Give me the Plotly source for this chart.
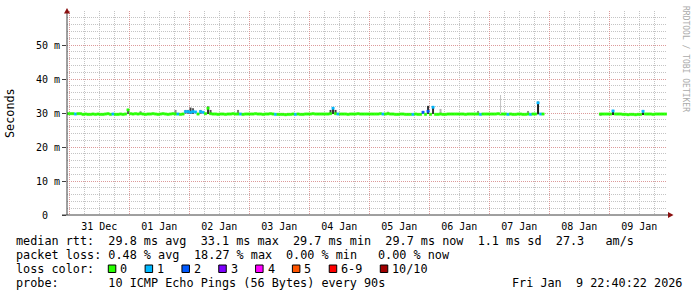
import pandas as pd
import plotly.graph_objects as go

# ---------------- data ----------------
sample_start = "2025-12-30 23:00"      # first hourly sample
view_start = "2025-12-30 23:05"
view_end = "2026-01-09 23:05"

median_dec30 = [29.8]
median_dec31 = [29.8, 29.8, 29.7, 29.8, 29.8, 29.6, 29.7, 29.6, 29.6, 29.7, 29.6, 29.7,
                29.6, 29.6, 29.7, 29.8, 29.6, 29.7, 29.6, 29.6, 29.7, 29.6, 29.7, 30.9]
median_jan01 = [29.8, 29.7, 29.8, 29.7, 29.8, 29.7, 29.6, 29.7, 29.7, 29.8, 29.7, 29.6,
                29.7, 29.8, 29.7, 29.6, 29.7, 29.8, 29.7, 29.7, 29.6, 29.7, 30.4, 30.4]
median_jan02 = [30.2, 30.4, 30.3, 29.7, 30.4, 30.2, 29.8, 31.4, 29.8, 29.7, 29.7, 29.6,
                29.7, 29.7, 29.6, 29.7, 29.7, 29.8, 29.7, 29.7, 29.7, 29.6, 29.7, 29.7]
median_jan03 = [29.7, 29.7, 29.8, 29.7, 29.7, 29.6, 29.7, 29.7, 29.8, 29.7, 29.6, 29.6,
                29.6, 29.6, 29.5, 29.6, 29.6, 29.7, 29.6, 29.7, 29.6, 29.6, 29.7, 29.7]
median_jan04 = [29.7, 29.8, 29.7, 29.7, 29.7, 29.7, 29.7, 29.7, 29.8, 31.4, 29.8, 29.7,
                29.7, 29.7, 29.7, 29.6, 29.7, 29.7, 29.7, 29.8, 29.7, 29.7, 29.7, 29.7]
median_jan05 = [29.7, 29.7, 29.7, 29.7, 29.8, 29.7, 29.7, 29.8, 29.7, 29.7, 29.6, 29.6,
                29.7, 29.7, 29.6, 29.6, 29.6, 29.6, 29.7, 29.6, 29.6, 30.2, 29.6, 30.5]
median_jan06 = [29.6, 31.7, 29.6, 29.6, 29.7, 29.6, 29.6, 29.7, 29.7, 29.7, 29.7, 29.7,
                29.7, 29.7, 29.6, 29.7, 29.7, 29.7, 29.7, 29.7, 29.6, 29.7, 29.7, 29.7]
median_jan07 = [29.7, 29.7, 29.7, 29.8, 29.7, 29.7, 29.7, 29.6, 29.7, 29.6, 29.6, 29.7,
                29.7, 29.6, 29.6, 29.7, 29.6, 29.7, 29.7, 33.0, 29.7, 29.7, None, None]
median_jan08 = [None, None, None, None, None, None, None, None, None, None, None, None,
                None, None, None, None, None, None, None, None, 29.7, 29.7, 29.7, 29.7]
median_jan09 = [29.7, 30.6, 29.7, 29.7, 29.7, 29.6, 29.6, 29.5, 29.6, 29.6, 29.5, 29.6,
                29.6, 30.5, 29.7, 29.7, 29.7, 29.6, 29.7, 29.7, 29.7, 29.7, 29.7]

# lost pings out of 10 per sample
loss_dec30 = [0]
loss_dec31 = [0, 0, 1, 0, 0, 0, 0, 0, 0, 0, 0, 0, 0, 0, 0, 0, 0, 1, 0, 0, 0, 0, 0, 0]
loss_jan01 = [0, 0, 0, 0, 0, 0, 0, 0, 0, 0, 0, 0, 0, 0, 0, 0, 0, 0, 0, 1, 0, 0, 1, 1]
loss_jan02 = [1, 1, 1, 0, 1, 1, 0, 0, 0, 0, 0, 0, 0, 0, 0, 0, 0, 0, 0, 0, 1, 0, 0, 0]
loss_jan03 = [0, 0, 0, 0, 0, 0, 0, 0, 0, 0, 1, 0, 0, 0, 0, 0, 0, 0, 1, 0, 0, 0, 0, 0]
loss_jan04 = [0, 0, 0, 0, 0, 0, 0, 0, 0, 1, 0, 1, 0, 0, 0, 0, 0, 0, 0, 0, 0, 0, 0, 0]
loss_jan05 = [0, 0, 0, 0, 0, 1, 0, 0, 0, 0, 0, 0, 0, 0, 0, 0, 0, 1, 0, 0, 0, 2, 0, 2]
loss_jan06 = [0, 1, 0, 0, 0, 0, 0, 0, 0, 0, 0, 0, 0, 0, 0, 0, 0, 0, 0, 0, 1, 0, 0, 0]
loss_jan07 = [0, 0, 0, 0, 0, 0, 0, 1, 0, 0, 0, 0, 0, 0, 0, 0, 1, 0, 0, 1, 1, 0, 0, 0]
loss_jan08 = [0, 0, 0, 0, 0, 0, 0, 0, 0, 0, 0, 0, 0, 0, 0, 0, 0, 0, 0, 0, 0, 0, 0, 0]
loss_jan09 = [0, 1, 0, 0, 0, 0, 0, 0, 0, 0, 0, 0, 0, 1, 0, 0, 0, 0, 0, 0, 0, 0, 0]

# smoke (spread of the individual pings) where it shows outside the median band
smoke_time = ["2025-12-31 23:00", "2026-01-01 04:00", "2026-01-01 18:00", "2026-01-01 22:00",
              "2026-01-01 23:00", "2026-01-02 00:00", "2026-01-02 01:00", "2026-01-02 04:00",
              "2026-01-02 07:00", "2026-01-02 08:00", "2026-01-02 19:00", "2026-01-04 08:00",
              "2026-01-04 09:00", "2026-01-04 10:00", "2026-01-05 07:00", "2026-01-05 21:00",
              "2026-01-05 23:00", "2026-01-06 01:00", "2026-01-06 04:00", "2026-01-06 19:00",
              "2026-01-07 15:00", "2026-01-07 19:00", "2026-01-08 20:00", "2026-01-09 01:00",
              "2026-01-09 13:00"]
smoke_low = [29.7, 29.7, 29.7, 29.7, 29.7, 29.7, 29.7, 29.7, 29.7, 29.7, 29.7, 29.7, 29.7,
             29.7, 29.7, 29.7, 29.7, 29.7, 29.7, 29.7, 29.7, 29.6, 29.3, 29.4, 29.4]
smoke_high = [31.2, 30.6, 30.9, 30.9, 30.9, 31.6, 31.4, 30.9, 31.9, 30.9, 30.9, 30.9, 31.6,
              30.9, 30.4, 30.6, 32.1, 32.0, 31.2, 30.6, 30.6, 33.3, 29.9, 30.3, 30.2]
smoke_pings = [6, 2, 3, 4, 4, 7, 6, 4, 8, 6, 4, 7, 8, 7, 1, 3, 8, 8, 1, 3, 3, 9, 9, 9, 9]

# single outlying ping
outlier_time = "2026-01-07 04:30"
outlier_base_ms = 29.7
outlier_ms = 35.3

# y axis
y_tick_vals = [0, 10, 20, 30, 40, 50]
y_tick_text = ["0\u00a0\u00a0", "10 m", "20 m", "30 m", "40 m", "50 m"]

# legend texts
loss_labels = ["0", "1", "2", "3", "4", "5", "6-9", "10/10"]
loss_colors = ["#26ff00", "#00b8ff", "#0059ff", "#7e00ff", "#ff00ff", "#ff5500", "#ff0000", "#a10000"]
median_line = "median rtt:  29.8 ms avg  33.1 ms max  29.7 ms min  29.7 ms now  1.1 ms sd  27.3   am/s"
loss_items = ["packet loss: 0.48 % avg", "18.27 % max", "0.00 % min", "0.00 % now"]
probe_line = "probe:       10 ICMP Echo Pings (56 Bytes) every 90s"
stamp = "Fri Jan  9 22:40:22 2026"
watermark = "RRDTOOL / TOBI OETIKER"

# ---------------- build ----------------
MONO = "DejaVu Sans Mono"
W, H = 697, 297
L, R, T, B = 67, 667, 11, 215
PW, PH = R - L, B - T


def px_x(px):
    return (px - L) / PW


def px_y(py):
    return (B - py) / PH


median_ms = (median_dec30 + median_dec31 + median_jan01 + median_jan02 + median_jan03 +
             median_jan04 + median_jan05 + median_jan06 + median_jan07 + median_jan08 + median_jan09)
loss = (loss_dec30 + loss_dec31 + loss_jan01 + loss_jan02 + loss_jan03 + loss_jan04 +
        loss_jan05 + loss_jan06 + loss_jan07 + loss_jan08 + loss_jan09)

HOUR = pd.Timedelta(hours=1)
times = pd.date_range(sample_start, periods=len(median_ms), freq="h")
centers = times + HOUR / 2


def loss_color(n):
    if n <= 5:
        return loss_colors[n]
    if n < 10:
        return loss_colors[6]
    return loss_colors[7]


def smoke_gray(n):
    g = int(200 - 19 * n)
    return f"rgb({g},{g},{g})"


BAND = 0.35
fig = go.Figure()

# smoke
fig.add_trace(go.Bar(
    x=[pd.Timestamp(t) + HOUR / 2 for t in smoke_time],
    base=smoke_low,
    y=[h - l for h, l in zip(smoke_high, smoke_low)],
    width=3600000 * 0.8,
    marker=dict(color=[smoke_gray(n) for n in smoke_pings], line=dict(width=0)),
    hoverinfo="skip", showlegend=False,
))

# outlier ping
fig.add_trace(go.Scatter(
    x=[outlier_time, outlier_time], y=[outlier_base_ms, outlier_ms],
    mode="lines", line=dict(color="#c4c4c4", width=1), hoverinfo="skip", showlegend=False,
))

# median band coloured by loss
valid = [i for i, m in enumerate(median_ms) if m is not None]
cols = [loss_color(loss[i]) for i in valid]
fig.add_trace(go.Bar(
    x=[centers[i] for i in valid],
    base=[median_ms[i] - BAND for i in valid],
    y=[2 * BAND] * len(valid),
    width=3600000,
    marker=dict(color=cols, line=dict(width=0.4, color=cols)),
    hoverinfo="skip", showlegend=False,
))

MAJOR = "#dc9a9a"
MINOR = "#c4c4c4"

fig.update_layout(
    width=W, height=H,
    margin=dict(l=L, r=W - R, t=T, b=H - B, pad=0),
    paper_bgcolor="white", plot_bgcolor="white",
    barmode="overlay", showlegend=False,
    font=dict(family=MONO, size=10, color="#000"),
)

fig.update_xaxes(
    type="date", range=[view_start, view_end],
    tick0="2025-12-31", dtick=86400000, tickformat="%d %b", ticklabelmode="period",
    showgrid=True, gridcolor=MAJOR, griddash="1px,1px", gridwidth=1,
    minor=dict(dtick=21600000, tick0="2025-12-31", showgrid=True, gridcolor=MINOR,
               griddash="1px,1px", gridwidth=1, ticks=""),
    ticks="", showline=False, zeroline=False, ticklabelstandoff=4,
    tickfont=dict(family=MONO, size=10, color="#000"),
    fixedrange=True,
)
fig.update_yaxes(
    range=[0, 60], tickvals=y_tick_vals, ticktext=y_tick_text,
    showgrid=True, gridcolor=MAJOR, griddash="1px,1px", gridwidth=1,
    minor=dict(dtick=2, showgrid=True, gridcolor=MINOR, griddash="1px,1px", gridwidth=1, ticks=""),
    ticks="outside", ticklen=4, tickcolor="#404040", tickwidth=1,
    showline=False, zeroline=False,
    tickfont=dict(family=MONO, size=10, color="#000"),
    fixedrange=True,
)

# axis lines and arrows
AX = "#404040"
ARROW = "#8b1010"
fig.add_shape(type="line", xref="paper", yref="paper", x0=px_x(L), y0=px_y(B), x1=px_x(L), y1=px_y(10),
              line=dict(color=AX, width=1))
fig.add_shape(type="line", xref="paper", yref="paper", x0=px_x(62), y0=px_y(B), x1=px_x(670), y1=px_y(B),
              line=dict(color=AX, width=1))
fig.add_shape(type="path", xref="paper", yref="paper",
              path=f"M {px_x(64)} {px_y(13.5)} L {px_x(70)} {px_y(13.5)} L {px_x(67)} {px_y(8)} Z",
              fillcolor=ARROW, line=dict(color=ARROW, width=0))
fig.add_shape(type="path", xref="paper", yref="paper",
              path=f"M {px_x(668)} {px_y(212)} L {px_x(668)} {px_y(218)} L {px_x(673.5)} {px_y(215)} Z",
              fillcolor=ARROW, line=dict(color=ARROW, width=0))


def text(px, py, s, size=11.8, anchor="left", color="#000", angle=0, yanchor="middle"):
    fig.add_annotation(x=px_x(px), y=px_y(py), xref="paper", yref="paper",
                       text=s.replace(" ", "\u00a0"), showarrow=False,
                       xanchor=anchor, yanchor=yanchor, textangle=angle,
                       font=dict(family=MONO, size=size, color=color),
                       borderpad=0, borderwidth=0)


CW = 7.12  # character advance of legend font
text(10, 113, "Seconds", angle=-90, anchor="center")
text(686, 59, watermark, size=8, color="#aaaaaa", angle=90, anchor="center")

text(15.5, 241, median_line)
loss_x = [15.5, 194, 285.5, 378]
for x, s in zip(loss_x, loss_items):
    text(x, 255, s)

text(15.5, 269, "loss color:")
bx = 108.3
for lab, col in zip(loss_labels, loss_colors):
    fig.add_shape(type="rect", xref="paper", yref="paper",
                  x0=px_x(bx), x1=px_x(bx + 7.5), y0=px_y(265), y1=px_y(272.5),
                  fillcolor=col, line=dict(color="#000", width=1))
    text(bx + 12, 269, lab)
    bx += 12 + len(lab) * CW + 17.7

text(15.5, 283, probe_line)
text(682, 283, stamp, anchor="right")

fig.write_html("out.html", config={"displayModeBar": False})
